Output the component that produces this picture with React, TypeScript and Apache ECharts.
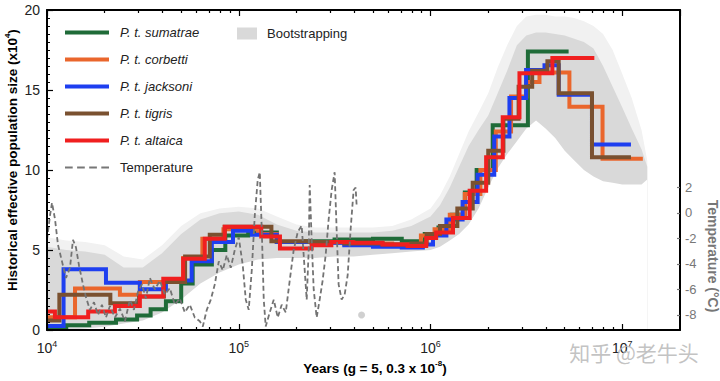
import React, { useEffect, useRef } from 'react';
import * as echarts from 'echarts';

// ---------------- data (years, Ne x10^4) ----------------
const sumatraeYears = [1.0e4, 1.26e4, 1.66e4, 2.29e4, 2.95e4, 3.47e4, 4.17e4, 5.01e4, 5.75e4, 7.24e4, 8.51e4, 1.12e5, 1.58e5, 2.24e5, 3.16e5, 5.01e5, 7.08e5, 9.33e5, 1.10e6, 1.29e6, 1.51e6, 1.74e6, 2.11e6, 3.22e6, 5.25e6];
const sumatraeNe = [0.1, 0.3, 0.45, 0.65, 0.9, 1.3, 1.8, 2.9, 4.1, 5.0, 5.9, 6.1, 5.5, 5.55, 5.65, 5.7, 5.55, 6.0, 6.4, 7.2, 8.6, 10.0, 12.8, 17.4, 17.4];

const corbettiYears = [1.0e4, 1.40e4, 2.40e4, 3.05e4, 5.13e4, 6.46e4, 8.32e4, 1.26e5, 1.58e5, 2.51e5, 3.98e5, 6.31e5, 8.91e5, 1.05e6, 1.26e6, 1.51e6, 1.82e6, 2.19e6, 2.63e6, 3.16e6, 3.70e6, 5.30e6, 7.89e6, 1.28e7];
const corbettiNe = [0.8, 2.6, 2.2, 3.0, 4.5, 5.7, 6.3, 6.0, 5.5, 5.45, 5.4, 5.35, 5.9, 6.3, 7.2, 8.5, 10.0, 12.4, 14.6, 15.5, 16.1, 13.95, 10.7, 10.7];

const jacksoniYears = [1.0e4, 1.22e4, 2.03e4, 3.05e4, 4.17e4, 5.68e4, 7.24e4, 9.33e4, 1.17e5, 1.58e5, 2.40e5, 3.55e5, 5.01e5, 7.08e5, 9.12e5, 1.03e6, 1.21e6, 1.47e6, 1.76e6, 2.15e6, 2.58e6, 3.15e6, 3.93e6, 4.66e6, 6.95e6, 1.11e7];
const jacksoniNe = [0.25, 3.8, 2.96, 2.54, 3.1, 4.3, 5.5, 6.2, 5.95, 5.5, 5.45, 5.3, 5.2, 5.15, 5.35, 5.9, 6.9, 8.0, 9.7, 12.1, 14.5, 16.25, 16.55, 14.7, 11.6, 11.6];

const tigrisYears = [1.0e4, 1.16e4, 2.14e4, 3.02e4, 4.07e4, 5.25e4, 7.06e4, 8.45e4, 1.48e5, 2.34e5, 3.55e5, 5.62e5, 7.94e5, 9.55e5, 1.12e6, 1.38e6, 1.66e6, 2.00e6, 2.40e6, 2.88e6, 3.39e6, 4.07e6, 4.66e6, 6.95e6, 1.11e7];
const tigrisNe = [0.6, 2.2, 1.67, 2.1, 3.0, 4.6, 5.95, 6.45, 5.55, 5.5, 5.4, 5.35, 5.4, 6.0, 6.5, 7.6, 9.2, 11.2, 13.2, 15.2, 16.2, 16.8, 14.8, 10.8, 10.8];

const altaicaYears = [1.0e4, 1.10e4, 1.64e4, 2.26e4, 3.05e4, 4.04e4, 5.13e4, 6.65e4, 8.45e4, 1.31e5, 1.64e5, 2.40e5, 3.04e5, 3.93e5, 5.62e5, 7.59e5, 9.50e5, 1.07e6, 1.31e6, 1.60e6, 1.95e6, 2.38e6, 2.91e6, 4.32e6, 7.15e6];
const altaicaNe = [1.15, 0.8, 1.15, 1.5, 2.1, 3.2, 4.45, 5.7, 6.45, 5.85, 5.1, 5.3, 5.5, 5.45, 5.35, 5.25, 5.75, 6.1, 7.0, 8.7, 10.8, 13.3, 16.05, 17.0, 17.0];

// bootstrapping envelope
const bandYears = [1.0e4, 1.26e4, 1.58e4, 2.0e4, 2.51e4, 3.16e4, 3.98e4, 5.01e4, 6.31e4, 7.94e4, 1.0e5, 1.26e5, 1.58e5, 2.0e5, 2.51e5, 3.16e5, 3.98e5, 5.01e5, 6.31e5, 7.94e5, 1.0e6, 1.12e6, 1.26e6, 1.41e6, 1.58e6, 1.78e6, 2.0e6, 2.24e6, 2.51e6, 2.82e6, 3.16e6, 3.55e6, 3.98e6, 4.47e6, 5.01e6, 5.62e6, 6.31e6, 7.08e6, 7.94e6, 8.91e6, 1.0e7, 1.12e7, 1.26e7, 1.35e7];
const bandLower = [0.0, 0.0, 0.1, 0.2, 0.4, 0.6, 1.1, 1.9, 2.9, 3.6, 4.1, 4.4, 4.5, 4.5, 4.5, 4.6, 4.6, 4.7, 4.8, 4.9, 5.0, 5.2, 5.6, 6.0, 6.6, 7.6, 8.9, 10.1, 11.0, 11.8, 12.6, 13.1, 12.6, 12.0, 11.2, 10.6, 10.0, 9.6, 9.3, 9.2, 9.1, 9.1, 9.1, 9.4];
const bandUpper = [5.2, 5.0, 4.9, 4.7, 3.9, 3.9, 4.8, 6.0, 6.9, 7.3, 7.4, 7.2, 6.6, 6.2, 6.1, 6.1, 6.1, 6.1, 6.2, 6.5, 7.1, 7.8, 8.9, 10.2, 11.5, 12.5, 13.4, 14.8, 16.2, 17.8, 18.4, 18.6, 18.6, 18.5, 18.4, 18.2, 18.0, 17.6, 16.5, 15.2, 13.9, 12.6, 11.3, 10.2];
const bandOuter = [5.8, 5.6, 5.5, 5.3, 4.6, 4.4, 5.3, 6.5, 7.3, 7.6, 7.7, 7.6, 7.1, 6.6, 6.4, 6.4, 6.4, 6.4, 6.5, 6.9, 7.6, 8.4, 9.6, 11.0, 12.4, 13.6, 14.8, 16.4, 17.8, 19.0, 19.6, 19.7, 19.7, 19.6, 19.6, 19.5, 19.3, 19.0, 18.5, 17.5, 16.0, 14.5, 12.5, 10.6];

// temperature (°C)
const tempYears = [10000, 10366, 10620, 11010, 11410, 11970, 12560, 13180, 13660, 14160, 14680, 15400, 15960, 16750, 17580, 18440, 19340, 20300, 21290, 22610, 24000, 25490, 27060, 28390, 29790, 31250, 32790, 34400, 36520, 38770, 41170, 43710, 46420, 49280, 52330, 55560, 58990, 62630, 64940, 68130, 71480, 74990, 78680, 82540, 86600, 90850, 95320, 100000, 104900, 108800, 112700, 116900, 121200, 125600, 128700, 131800, 135000, 138200, 145100, 152200, 159700, 167500, 175800, 184400, 193400, 203000, 212900, 220800, 226100, 231600, 234400, 240000, 245900, 254900, 264200, 273800, 283900, 294300, 305100, 316200, 323900, 331700, 344000, 356600, 369700, 383100, 397200, 406900, 411800];
const tempValues = [-2.1, -0.2, 0.8, -0.5, -2.5, -3.8, -5.1, -4.3, -2.1, -2.7, -4.1, -5.6, -6.6, -7.6, -7.0, -8.0, -7.2, -8.2, -7.3, -8.2, -7.5, -8.5, -6.8, -7.6, -6.2, -5.6, -6.7, -5.1, -6.0, -5.3, -6.4, -5.9, -7.2, -6.7, -7.8, -7.2, -8.2, -8.5, -8.9, -7.6, -6.8, -5.6, -3.8, -4.5, -3.3, -4.3, -2.9, -1.9, -4.1, -6.8, -7.6, -4.5, -0.2, 2.6, 3.2, -1.3, -6.8, -8.9, -7.8, -6.8, -8.2, -7.2, -7.8, -5.3, -2.9, -1.5, -1.0, -4.5, -6.8, -2.9, 2.2, -2.1, -6.0, -8.2, -6.8, -5.3, -3.3, -0.5, 1.8, 3.2, -1.3, -5.6, -6.8, -6.4, -4.9, -1.3, 1.8, 2.0, 0.6];
const tempDotYears = [4.37e5];
const tempDotValues = [-8.0];

// axes
const yTicksLeft = [0, 5, 10, 15, 20];
const tempTicks = [-8, -6, -4, -2, 0, 2];
const decadeExponents = [4, 5, 6, 7];

// ---------------- helpers ----------------
const FONT = '"Liberation Sans", Arial, Helvetica, sans-serif';
const X_MIN = 1e4;
const X_MAX = 2e7;
const LOG_MIN = Math.log10(X_MIN);
const LOG_MAX = Math.log10(X_MAX);
const pairs = (xs: number[], ys: number[]) => xs.map((x, i) => [x, ys[i]]);

const minorLogs: number[] = [];
decadeExponents.forEach((e) => {
  for (let k = 2; k <= 9; k++) {
    const v = Math.log10(k) + e;
    if (v < LOG_MAX) minorLogs.push(v);
  }
});

const species = [
  { name: 'P. t. sumatrae', color: '#1f6b38', years: sumatraeYears, ne: sumatraeNe },
  { name: 'P. t. corbetti', color: '#ea662c', years: corbettiYears, ne: corbettiNe },
  { name: 'P. t. jacksoni', color: '#1e3ff0', years: jacksoniYears, ne: jacksoniNe },
  { name: 'P. t. tigris', color: '#7a5130', years: tigrisYears, ne: tigrisNe },
  { name: 'P. t. altaica', color: '#f01f1f', years: altaicaYears, ne: altaicaNe },
];

const SOLID_ICON = 'path://M0,0h44v4h-44z';
const DASH_ICON = 'path://M0,0h7v2h-7zM11,0h7v2h-7zM22,0h7v2h-7zM33,0h7v2h-7z';

const supRich = (size: number, color: string, weight: string) => ({
  b: { fontSize: size, color, fontFamily: FONT, fontWeight: weight, lineHeight: size + 4 },
  s: { fontSize: Math.round(size * 0.62), color, fontFamily: FONT, fontWeight: weight, verticalAlign: 'top', lineHeight: Math.round(size * 0.62) + 1 },
});

function buildOption(): any {
  const blackLine = { color: '#000', width: 2 };
  const tickLine = { color: '#000', width: 1.2 };

  const xMajor = (position: string, labels: boolean) => ({
    type: 'log',
    logBase: 10,
    min: X_MIN,
    max: X_MAX,
    position,
    z: 10,
    axisLine: { show: true, onZero: false, lineStyle: blackLine },
    axisTick: { show: true, inside: true, length: 6, lineStyle: tickLine },
    axisLabel: labels
      ? {
          show: true,
          margin: 9,
          showMaxLabel: false,
          formatter: (v: number) => {
            const e = Math.log10(v);
            const r = Math.round(e);
            if (Math.abs(e - r) > 1e-6) return '';
            return `{b|10}{s|${r}}`;
          },
          rich: supRich(14, '#222', 'normal'),
        }
      : { show: false },
    splitLine: { show: false },
  });
  const xMinor = (position: string) => ({
    type: 'value',
    min: LOG_MIN,
    max: LOG_MAX,
    position,
    z: 10,
    axisLine: { show: false, onZero: false },
    axisTick: { show: true, inside: true, length: 3, customValues: minorLogs, lineStyle: tickLine },
    axisLabel: { show: false, customValues: minorLogs },
    splitLine: { show: false },
  });

  const areaSeries = (name: string, ys: number[], color: string) => ({
    type: 'line', name, symbol: 'none', silent: true, z: 1,
    data: pairs(bandYears, ys),
    lineStyle: { width: 0, opacity: 0 },
    itemStyle: { color },
    areaStyle: { color, opacity: 1, origin: 'start' },
  });

  const series: any[] = [
    areaSeries('_bandOuter', bandOuter, '#f1f1f1'),
    areaSeries('Bootstrapping', bandUpper, '#d9d9d9'),
    areaSeries('_bandLow', bandLower, '#ffffff'),
  ];
  species.forEach((s) => {
    series.push({
      type: 'line', name: s.name, step: 'end', symbol: 'none', z: 3,
      data: pairs(s.years, s.ne),
      color: s.color,
      lineStyle: { color: s.color, width: 4, join: 'miter', cap: 'butt' },
    });
  });
  series.push({
    type: 'line', name: 'Temperature', yAxisIndex: 1, symbol: 'none', z: 4,
    data: pairs(tempYears, tempValues),
    color: '#777',
    lineStyle: { color: '#737373', width: 1.8, type: [5, 3] },
  });
  series.push({
    type: 'scatter', name: '_tempDot', yAxisIndex: 1, symbolSize: 7, z: 4,
    data: pairs(tempDotYears, tempDotValues),
    itemStyle: { color: '#c4c4c4' },
  });

  return {
    animation: false,
    backgroundColor: '#fff',
    textStyle: { fontFamily: FONT },
    grid: { left: 47, right: 40, top: 10, bottom: 51, containLabel: false },
    xAxis: [xMajor('bottom', true), xMinor('bottom'), xMajor('top', false), xMinor('top')],
    yAxis: [
      {
        type: 'value', min: yTicksLeft[0], max: yTicksLeft[yTicksLeft.length - 1], interval: 5, position: 'left', z: 10,
        axisLine: { show: true, onZero: false, lineStyle: blackLine },
        axisTick: { show: true, inside: true, length: 6, lineStyle: tickLine },
        minorTick: { show: true, splitNumber: 10, length: 3, lineStyle: { color: '#000', width: 1 } },
        axisLabel: { fontSize: 14, color: '#222', margin: 7, fontFamily: FONT },
        splitLine: { show: false },
      },
      {
        type: 'value', min: -9.18, max: 15.92, position: 'right', z: 10,
        axisLine: { show: true, onZero: false, lineStyle: blackLine },
        axisTick: { show: true, inside: true, length: 3, customValues: tempTicks, lineStyle: { color: '#777', width: 1.2 } },
        axisLabel: { customValues: tempTicks, fontSize: 13, color: '#777', margin: 5, fontFamily: FONT },
        splitLine: { show: false },
      },
    ],
    legend: [
      {
        orient: 'vertical', left: 65, top: 26, padding: 0, itemWidth: 44, itemHeight: 14, itemGap: 14,
        selectedMode: false, symbolKeepAspect: true,
        data: [
          ...species.map((s) => ({ name: s.name, icon: SOLID_ICON })),
          { name: 'Temperature', icon: DASH_ICON },
        ],
        formatter: (name: string) => (name.startsWith('P.') ? `{i|${name}}` : `{n|${name}}`),
        textStyle: {
          fontFamily: FONT, fontSize: 13, color: '#222',
          rich: {
            i: { fontFamily: FONT, fontSize: 13, color: '#222', fontStyle: 'italic', padding: [0, 0, 0, 6] },
            n: { fontFamily: FONT, fontSize: 13, color: '#222', padding: [0, 0, 0, 6] },
          },
        },
      },
      {
        left: 237, top: 27, padding: 0, itemWidth: 20, itemHeight: 12, icon: 'rect', selectedMode: false,
        data: [{ name: 'Bootstrapping', itemStyle: { color: '#d9d9d9' } }],
        textStyle: { fontFamily: FONT, fontSize: 13, color: '#222', padding: [0, 0, 0, 5] },
      },
    ],
    graphic: [
      {
        type: 'text', x: 12, y: 160, rotation: Math.PI / 2, z: 50,
        style: {
          text: '{b|Historical effective population size (x10}{s|4}{b|)}',
          rich: supRich(13.5, '#111', 'bold'),
          align: 'center', verticalAlign: 'middle', textAlign: 'center', textVerticalAlign: 'middle',
        },
      },
      {
        type: 'text', x: 375, y: 368, z: 50,
        style: {
          text: '{b|Years (g = 5, 0.3 x 10}{s|-8}{b|)}',
          rich: supRich(13.5, '#111', 'bold'),
          align: 'center', verticalAlign: 'middle', textAlign: 'center', textVerticalAlign: 'middle',
        },
      },
      {
        type: 'text', x: 713, y: 256, rotation: -Math.PI / 2, z: 50,
        style: {
          text: 'Temperature (°C)', fill: '#777', font: `bold 14px ${FONT}`,
          align: 'center', verticalAlign: 'middle', textAlign: 'center', textVerticalAlign: 'middle',
        },
      },
      {
        type: 'text', x: 634, y: 352, z: 100,
        style: {
          text: '知乎 @老牛头', fill: 'rgba(185,185,185,0.85)', font: '21px "Noto Sans CJK SC", sans-serif',
          align: 'center', verticalAlign: 'middle', textAlign: 'center', textVerticalAlign: 'middle',
        },
      },
    ],
    series,
  };
}

export default function App() {
  const ref = useRef<HTMLDivElement>(null);
  useEffect(() => {
    document.body.style.margin = '0';
    const chart = echarts.init(ref.current as HTMLDivElement, null, { renderer: 'svg' });
    chart.setOption(buildOption());
    return () => chart.dispose();
  }, []);
  return <div ref={ref} style={{ width: 720, height: 381 }} />;
}
